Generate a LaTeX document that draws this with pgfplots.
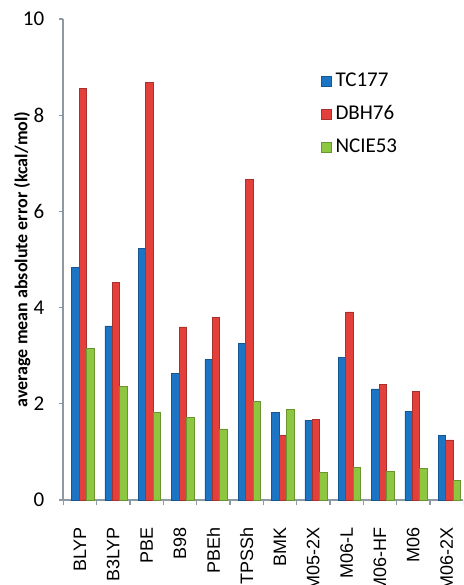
\documentclass[border=0pt]{standalone}
\usepackage{fontspec}
\setmainfont{Carlito}
\newfontfamily\catfont{Liberation Sans}
\usepackage{pgfplots}
\pgfplotsset{compat=1.18}
\definecolor{cblue}{HTML}{1B74C4}
\definecolor{cred}{HTML}{E3403B}
\definecolor{cgreen}{HTML}{8DC63F}
\definecolor{axgray}{HTML}{8E9AA3}
\begin{document}
\begin{tikzpicture}
\path[use as bounding box, clip] (-31.65pt,-42.5pt) rectangle (199.85pt,250pt);
\begin{axis}[
  scale only axis, width=200pt, height=240.5pt,
  xmin=-0.5, xmax=11.5, ymin=0, ymax=10,
  axis x line*=bottom, axis y line*=left,
  axis line style={axgray, line width=0.8pt},
  ytick={0,2,...,10},
  xtick={0,...,11},
  xticklabels={BLYP,B3LYP,PBE,B98,PBEh,TPSSh,BMK,M05-2X,M06-L,M06-HF,M06,M06-2X},
  major x tick style={draw=none},
  minor xtick={-0.5,0.5,...,11.5},
  minor tick length=2.5pt,
  major tick length=2pt,
  tick align=outside,
  tick style={axgray, line width=0.6pt},
  xticklabel style={rotate=90, anchor=east, font=\catfont\fontsize{9}{10}\selectfont},
  xticklabel shift=8pt,
  yticklabel style={font=\fontsize{10.5}{12}\selectfont},
  yticklabel shift=4pt,
  /pgf/number format/assume math mode=true,
  ylabel={average mean absolute error (kcal/mol)},
  every axis y label/.style={at={(axis description cs:-0.1025,0.5)}, rotate=90, anchor=center, font=\bfseries\fontsize{9}{10}\selectfont},
  legend style={at={(0.628,0.905)}, anchor=north west, draw=none, fill=none, font=\fontsize{10.5}{12}\selectfont, row sep=4pt, cells={anchor=west}},
  legend image code/.code={\fill[#1] (0pt,-2.5pt) rectangle (5pt,2.5pt);},
]
\addplot[ybar, bar width=3.7pt, bar shift=-2.3pt, fill=cblue, draw=cblue!75!black, line width=0.3pt] coordinates {
 (0,4.83) (1,3.62) (2,5.23) (3,2.63) (4,2.92) (5,3.26) (6,1.82) (7,1.66) (8,2.97) (9,2.31) (10,1.84) (11,1.35)};
\addlegendentry{TC177}
\addplot[ybar, bar width=3.7pt, bar shift=1.4pt, fill=cred, draw=cred!75!black, line width=0.3pt] coordinates {
 (0,8.56) (1,4.53) (2,8.69) (3,3.60) (4,3.80) (5,6.67) (6,1.34) (7,1.68) (8,3.91) (9,2.41) (10,2.25) (11,1.25)};
\addlegendentry{DBH76}
\addplot[ybar, bar width=3.7pt, bar shift=5.1pt, fill=cgreen, draw=cgreen!75!black, line width=0.3pt] coordinates {
 (0,3.15) (1,2.36) (2,1.82) (3,1.72) (4,1.48) (5,2.05) (6,1.88) (7,0.57) (8,0.68) (9,0.60) (10,0.66) (11,0.40)};
\addlegendentry{NCIE53}
\end{axis}
\end{tikzpicture}
\end{document}
